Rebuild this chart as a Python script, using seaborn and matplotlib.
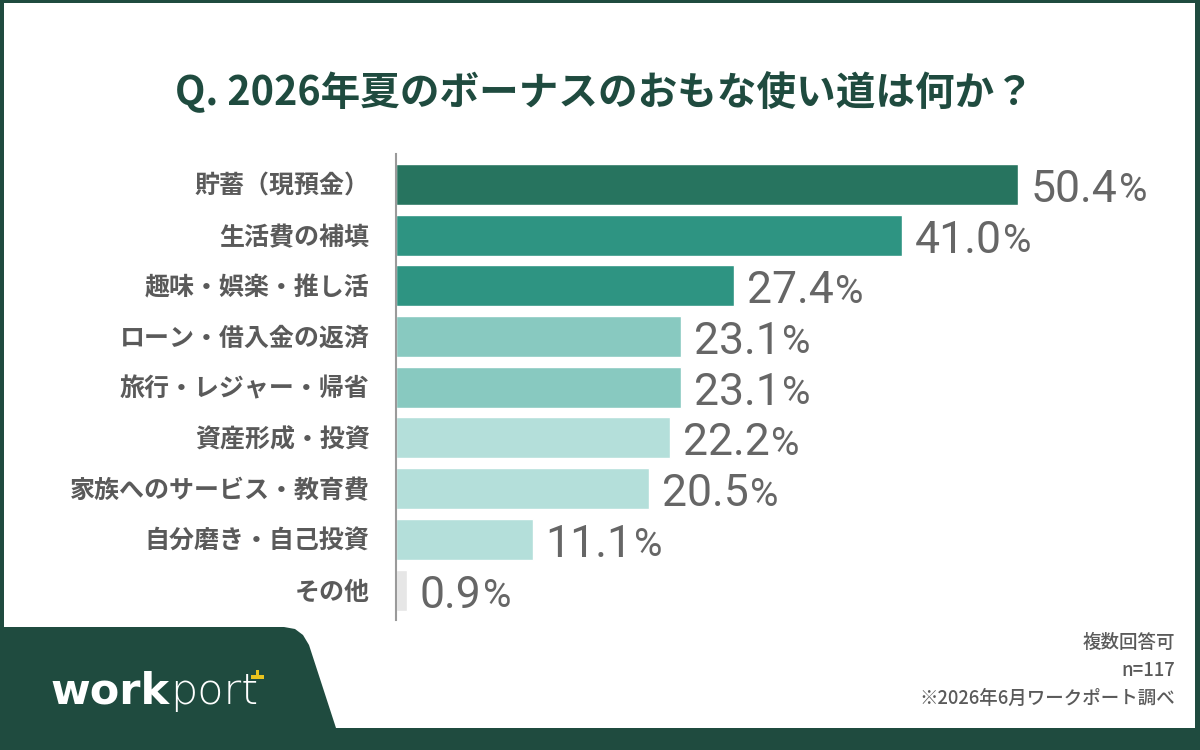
import matplotlib
matplotlib.use("Agg")
import matplotlib.pyplot as plt
import seaborn as sns
import pandas as pd
from matplotlib.patches import Rectangle, Polygon

# data
categories = [
    "貯蓄（現預金）",
    "生活費の補填",
    "趣味・娯楽・推し活",
    "ローン・借入金の返済",
    "旅行・レジャー・帰省",
    "資産形成・投資",
    "家族へのサービス・教育費",
    "自分磨き・自己投資",
    "その他",
]
values = [50.4, 41.0, 27.4, 23.1, 23.1, 22.2, 20.5, 11.1, 0.9]
bar_colors = [
    "#27745F", "#2E9482", "#2E9482",
    "#88C9C0", "#88C9C0",
    "#B4DFDA", "#B4DFDA", "#B4DFDA",
    "#E6E6E6",
]
title = "Q. 2026年夏のボーナスのおもな使い道は何か？"
notes = ["複数回答可", "n=117", "※2026年6月ワークポート調べ"]

sns.set_theme(style="white")
plt.rcParams["font.family"] = ["Noto Sans CJK JP", "DejaVu Sans"]

DARK = "#1F4B3F"
GRAY = "#5A5A5A"

fig = plt.figure(figsize=(12, 7.5), dpi=100)
fig.patch.set_facecolor("white")

# background layer in pixel coords (frame, bottom band, logo tab)
bg = fig.add_axes([0, 0, 1, 1], zorder=0)
bg.set_xlim(0, 1200)
bg.set_ylim(750, 0)
bg.axis("off")
bg.add_patch(Rectangle((0, 0), 1200, 3, color=DARK, lw=0))
bg.add_patch(Rectangle((0, 0), 4, 750, color=DARK, lw=0))
bg.add_patch(Rectangle((1195, 0), 5, 750, color=DARK, lw=0))
tab = [(0, 627), (284, 627), (295, 629), (303, 635), (309, 645),
       (336, 728), (1200, 728), (1200, 750), (0, 750)]
bg.add_patch(Polygon(tab, closed=True, color=DARK, lw=0))

# logo
t_work = bg.text(50, 703, "work", color="white", fontsize=31, fontweight="heavy",
                 family="DejaVu Sans", va="baseline", ha="left")
t_port = bg.annotate("port", xy=(1, 0), xycoords=t_work, xytext=(0.5, 0),
                     textcoords="offset points", color="white", fontsize=31,
                     fontweight="light", family="DejaVu Sans", va="bottom", ha="left")
bg.add_patch(Rectangle((251, 675), 13, 3.5, color="#E8C31E", lw=0))
bg.add_patch(Rectangle((255.5, 670), 3.5, 9, color="#E8C31E", lw=0))

# title
fig.text(0.504, 1 - 92 / 750, title, ha="center", va="center",
         fontsize=28.5, fontweight="bold", color=DARK)

# footnotes
for i, note in enumerate(notes):
    fig.text(1175 / 1200, 1 - (642 + 28 * i) / 750, note, ha="right", va="center",
             fontsize=13.3, fontweight="medium", color=GRAY)

# main chart
ax = fig.add_axes([396 / 1200, 1 - 620 / 750, 784 / 1200, 466 / 750], zorder=1)
ax.patch.set_alpha(0)
df = pd.DataFrame({"category": categories, "value": values})
sns.barplot(data=df, x="value", y="category", hue="category", palette=bar_colors,
            legend=False, width=0.81, saturation=1, ax=ax)
ax.set_xlim(0, 63.5)
ax.set_ylim(8.59, -0.60)
ax.set_xlabel("")
ax.set_ylabel("")
ax.set_xticks([])
for s in ["top", "right", "bottom"]:
    ax.spines[s].set_visible(False)
ax.spines["left"].set_color("#9A9A9A")
ax.spines["left"].set_linewidth(1.5)
ax.tick_params(axis="y", length=0, pad=19)
for lab in ax.get_yticklabels():
    lab.set_fontsize(18)
    lab.set_fontweight("bold")
    lab.set_color(GRAY)

num_family = ["Roboto", "DejaVu Sans"]
for i, v in enumerate(values):
    num = ax.annotate(f"{v:.1f}", xy=(v, i), xytext=(9, -12.6), textcoords="offset points",
                      ha="left", va="baseline", fontsize=32, color="#666666",
                      family=num_family)
    ax.annotate("%", xy=(1, 0), xycoords=num, xytext=(1, 1.2), textcoords="offset points",
                ha="left", va="bottom", fontsize=28, color="#666666", family=num_family)

fig.savefig("out.png", dpi=100)
